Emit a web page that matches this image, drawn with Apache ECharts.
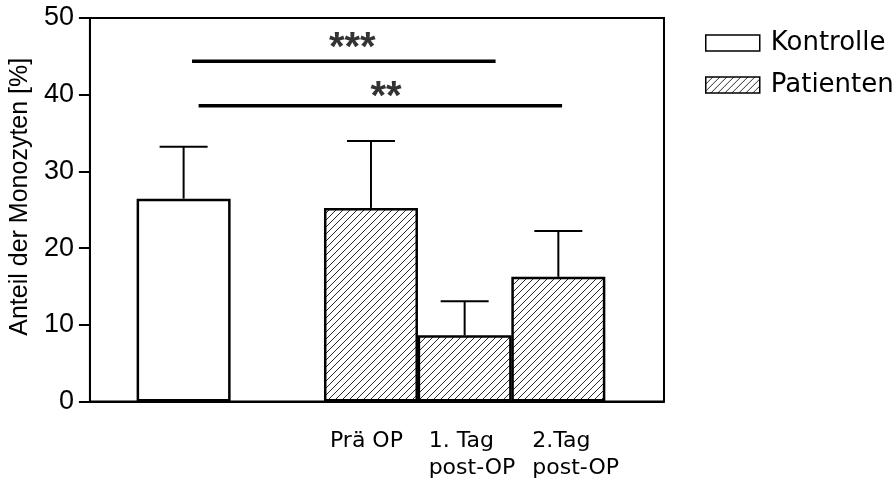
<!DOCTYPE html>
<html>
<head>
<meta charset="utf-8">
<script src="https://cdn.jsdelivr.net/npm/echarts@6/dist/echarts.min.js"></script>
<style>html,body{margin:0;padding:0;background:#fff;}#c{width:895px;height:479px;}</style>
</head>
<body>
<div id="c"></div>
<script>
// ---- data ----
const categories = ['Kontrolle', '', 'Prä OP', '1. Tag\npost-OP', '2.Tag\npost-OP'];
const kontrolleIndex = [0];
const kontrolleMean = [26.45];
const kontrolleUpper = [33.2];
const patientenIndex = [2, 3, 4];
const patientenMean = [25.24, 8.64, 16.25];
const patientenUpper = [33.97, 13.07, 22.24];
const yTicks = [0, 10, 20, 30, 40, 50];
const sigFrom = [1.09, 1.16];
const sigTo = [4.33, 5.04];
const sigLevel = [44.35, 38.57];
const sigText = ['***', '**'];
const starX = [2.8, 3.16];
const starY = [46.3, 39.9];

// ---- build ----
function pos(i) { return i + 1; }
function hatch() {
  const n = 7;
  const c = document.createElement('canvas');
  c.width = n; c.height = n;
  const g = c.getContext('2d');
  g.fillStyle = '#fff'; g.fillRect(0, 0, n, n);
  g.strokeStyle = '#111'; g.lineWidth = 0.9;
  g.beginPath();
  g.moveTo(0, n); g.lineTo(n, 0);
  g.moveTo(-1, 1); g.lineTo(1, -1);
  g.moveTo(n - 1, n + 1); g.lineTo(n + 1, n - 1);
  g.stroke();
  return c;
}
const hatchColor = { image: hatch(), repeat: 'repeat' };

const kData = kontrolleIndex.map((c, i) => [pos(c), kontrolleMean[i]]);
const pData = patientenIndex.map((c, i) => [pos(c), patientenMean[i]]);
const errData = kontrolleIndex.map((c, i) => [pos(c), kontrolleMean[i], kontrolleUpper[i]])
  .concat(patientenIndex.map((c, i) => [pos(c), patientenMean[i], patientenUpper[i]]));

const labelStyles = { p0: 82, p1: 72, p2: 52 };
const rich = {};
Object.keys(labelStyles).forEach(k => {
  rich[k] = { width: labelStyles[k], align: 'left', fontFamily: 'DejaVu Sans', fontSize: 22, lineHeight: 27, color: '#000' };
});

const sigSeries = sigFrom.map((f, i) => ({
  type: 'line', data: [[f, sigLevel[i]], [sigTo[i], sigLevel[i]]],
  symbol: 'none', silent: true, z: 5,
  lineStyle: { color: '#000', width: 3.5 }
}));

const chart = echarts.init(document.getElementById('c'), null, { renderer: 'canvas' });
chart.setOption({
  animation: false,
  backgroundColor: '#fff',
  grid: { left: 88, right: 231, top: 18, bottom: 77, show: true, borderColor: '#000', borderWidth: 2, backgroundColor: 'transparent' },
  legend: {
    orient: 'vertical', left: 705, top: 30, padding: 0, itemWidth: 54, itemHeight: 16, itemGap: 16,
    icon: 'rect',
    textStyle: { fontFamily: 'DejaVu Sans', fontSize: 26, lineHeight: 26, color: '#000', padding: [0, 0, 0, 6] },
    itemStyle: { borderWidth: 1.5, borderColor: '#000' },
    data: ['Kontrolle', 'Patienten']
  },
  xAxis: {
    type: 'value', min: 0, max: 6.128, interval: 1,
    axisLine: { show: true, lineStyle: { color: '#000', width: 2 } },
    axisTick: { show: false },
    splitLine: { show: false },
    axisLabel: {
      margin: 26, align: 'center', rich: rich,
      formatter: function (v) {
        const i = Math.round(v) - 1;
        if (Math.abs(v - Math.round(v)) > 1e-6) return '';
        const k = patientenIndex.indexOf(i);
        if (k < 0) return '';
        const key = 'p' + k;
        return categories[i].split('\n').map(s => '{' + key + '|' + s + '}').join('\n');
      }
    }
  },
  yAxis: {
    type: 'value', min: yTicks[0], max: yTicks[yTicks.length - 1], interval: 10,
    name: 'Anteil der Monozyten [%]', nameLocation: 'middle', nameGap: 50,
    nameTextStyle: { fontFamily: 'Liberation Sans', fontSize: 25, color: '#000', padding: [0, 0, 0, 26] },
    axisLine: { show: true, lineStyle: { color: '#000', width: 2 } },
    axisTick: { show: true, inside: false, length: 11, lineStyle: { color: '#000', width: 2 } },
    splitLine: { show: false },
    axisLabel: { margin: 16, fontFamily: 'Liberation Sans', fontSize: 27, color: '#000' }
  },
  series: [
    {
      name: 'Kontrolle', type: 'bar', data: kData, barWidth: 94, barGap: '-100%', z: 3,
      itemStyle: { color: '#fff', borderColor: '#000', borderWidth: 2.5 }
    },
    {
      name: 'Patienten', type: 'bar', data: pData, barWidth: 94, barGap: '-100%', z: 3,
      itemStyle: { color: hatchColor, borderColor: '#000', borderWidth: 2.5 }
    },
    {
      type: 'custom', data: errData, z: 2, silent: true,
      renderItem: function (params, api) {
        const x = api.value(0), m = api.value(1), u = api.value(2);
        const p0 = api.coord([x, m]), p1 = api.coord([x, u]);
        const hw = 24;
        return { type: 'group', children: [
          { type: 'line', shape: { x1: p0[0], y1: p0[1], x2: p1[0], y2: p1[1] }, style: { stroke: '#000', lineWidth: 2 } },
          { type: 'line', shape: { x1: p1[0] - hw, y1: p1[1], x2: p1[0] + hw, y2: p1[1] }, style: { stroke: '#000', lineWidth: 2 } }
        ] };
      }
    }
  ].concat(sigSeries).concat([{
    type: 'scatter', symbolSize: 1, itemStyle: { color: 'transparent' }, silent: true, z: 6,
    data: starX.map((x, i) => ({ value: [x, starY[i]], label: { formatter: sigText[i] } })),
    label: { show: true, position: 'inside', fontFamily: 'Liberation Sans', fontWeight: 'bold', fontSize: 40, color: '#000', textBorderWidth: 0, offset: [0, 3] }
  }])
});
</script>
</body>
</html>
